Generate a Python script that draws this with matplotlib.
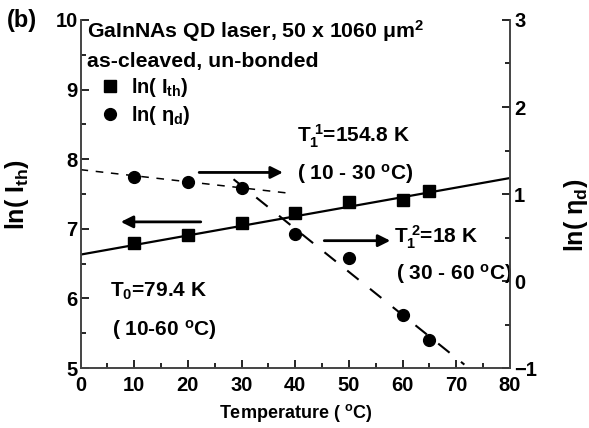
import matplotlib
matplotlib.use("Agg")
import matplotlib.pyplot as plt

plt.rcParams['font.family'] = ['Liberation Sans', 'DejaVu Sans']
plt.rcParams['font.weight'] = 'bold'
plt.rcParams['mathtext.fontset'] = 'custom'
plt.rcParams['mathtext.rm'] = 'Liberation Sans:bold'
plt.rcParams['mathtext.it'] = 'Liberation Sans:bold'
plt.rcParams['mathtext.bf'] = 'Liberation Sans:bold'

# Data
temps = [10, 20, 30, 40, 50, 60, 65]
ln_ith = [6.79, 6.91, 7.09, 7.23, 7.39, 7.42, 7.55]
ln_eta = [1.20, 1.14, 1.07, 0.54, 0.265, -0.39, -0.675]

# Fit lines
fit0_T = [0, 80]
fit0_lnI = [6.63, 7.73]
fit1_T = [0, 39.5]
fit1_eta = [1.28, 1.005]
fit2_T = [28.5, 71.5]
fit2_eta = [1.17, -0.96]

fig = plt.figure(figsize=(5.89, 4.28), dpi=100)
ax = fig.add_axes([0.1367, 0.14, 0.7292, 0.8133])
ax2 = ax.twinx()

ax.plot(fit0_T, fit0_lnI, color='black', lw=1.6, zorder=2)
h1, = ax.plot(temps, ln_ith, 's', color='black', ms=8, zorder=3, label=r'ln( I$_{\rm th}$)')
ax2.plot(fit1_T, fit1_eta, color='black', lw=1.1, ls=(0, (5, 5)), zorder=2)
ax2.plot(fit2_T, fit2_eta, color='black', lw=1.5, ls=(0, (7, 7)), zorder=2)
h2, = ax2.plot(temps, ln_eta, 'o', color='black', ms=8.5, zorder=3, label=r'ln( $\eta_{\rm d}$)')

ax.set_xlim(0, 80)
ax.set_ylim(5, 10)
ax2.set_ylim(-1, 3)

for a in (ax, ax2):
    a.spines['top'].set_visible(False)
    for s in ('left', 'right', 'bottom'):
        a.spines[s].set_color('#444444')
        a.spines[s].set_linewidth(1.2)

ax.set_xticks(range(0, 81, 10))
ax.set_xticks(range(5, 81, 10), minor=True)
ax.set_yticks([5, 6, 7, 8, 9, 10])
ax.set_yticks([5.5, 6.5, 7.5, 8.5, 9.5], minor=True)
ax2.set_yticks([-1, 0, 1, 2, 3])
ax2.set_yticks([-0.5, 0.5, 1.5, 2.5], minor=True)

ax.tick_params(axis='both', which='major', direction='in', length=6, width=1.2,
               labelsize=14.5, pad=2)
ax.tick_params(axis='both', which='minor', direction='in', length=3.5, width=1.2)
ax.tick_params(axis='x', pad=5.5)
ax2.tick_params(axis='y', which='major', direction='in', length=6, width=1.2,
                labelsize=14.5, pad=3)
ax2.tick_params(axis='y', which='minor', direction='in', length=3.5, width=1.2)
for lab in ax.get_xticklabels() + ax.get_yticklabels() + ax2.get_yticklabels():
    lab.set_fontweight('bold')

ax.set_xlabel(r'Temperature ( $^{\rm o}$C)', fontsize=13, fontweight='bold', labelpad=5)
ax.set_ylabel(r'ln( I$_{\rm th}$)', fontsize=18, fontweight='bold')
ax.yaxis.set_label_coords(-0.115, 0.50)
ax2.set_ylabel(r'ln( $\eta_{\rm d}$)', fontsize=18, fontweight='bold')
ax2.yaxis.set_label_coords(1.12, 0.44)

fig.text(0.012, 0.953, '(b)', fontsize=17, fontweight='bold', va='center')

tk = dict(fontsize=15.3, fontweight='bold', color='black')
ax.text(1.3, 9.745, r'GaInNAs QD laser, 50 x 1060 $\mu$m$^2$', va='baseline', **tk)
ax.text(1.3, 9.33, 'as-cleaved, un-bonded', va='baseline', **tk)
ak = dict(fontsize=15, fontweight='bold', color='black')
ax.text(40.4, 8.25, r'T$_1^{\ 1}$=154.8 K', va='baseline', **ak)
ax.text(40.3, 7.70, r'( 10 - 30 $^{\rm o}$C)', va='baseline', **ak)
ax.text(58.4, 6.79, r'T$_1^{\ 2}$=18 K', va='baseline', **ak)
ax.text(58.8, 6.27, r'( 30 - 60 $^{\rm o}$C)', va='baseline', **ak)
ax.text(5.5, 6.02, r'T$_0$=79.4 K', va='baseline', **ak)
ax.text(5.9, 5.47, r'( 10-60 $^{\rm o}$C)', va='baseline', **ak)

ap = dict(arrowstyle='-|>', color='black', lw=2, mutation_scale=18, shrinkA=0, shrinkB=0)
ax.annotate('', xy=(7.5, 7.10), xytext=(22.4, 7.10), arrowprops=ap)
ax.annotate('', xy=(37.7, 7.81), xytext=(22.1, 7.81), arrowprops=ap)
ax.annotate('', xy=(57.7, 6.83), xytext=(45.4, 6.83), arrowprops=ap)

leg = ax.legend(handles=[h1, h2], loc='upper left', bbox_to_anchor=(0.048, 0.838),
                frameon=False, borderpad=0, borderaxespad=0, handlelength=0.9,
                handletextpad=0.6, labelspacing=0.25, fontsize=14.5)
leg.set_zorder(5)

fig.savefig('out.png', dpi=100)
